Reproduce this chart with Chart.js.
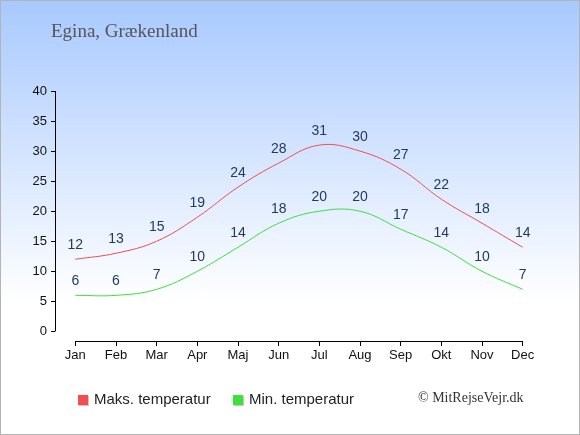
<!DOCTYPE html>
<html>
<head>
<meta charset="utf-8">
<script src="https://cdn.jsdelivr.net/npm/chart.js@4"></script>
<style>
  html, body { margin: 0; padding: 0; background: #fff; }
  #wrap { width: 578px; height: 433px; border: 1px solid #b4b4b4; }
</style>
</head>
<body>
<div id="wrap"><canvas id="tempChart" width="578" height="433"></canvas></div>
<script>
const months = ['Jan', 'Feb', 'Mar', 'Apr', 'Maj', 'Jun', 'Jul', 'Aug', 'Sep', 'Okt', 'Nov', 'Dec'];
const maxTemp = [12, 13, 15, 19, 24, 28, 31, 30, 27, 22, 18, 14];
const minTemp = [6, 6, 7, 10, 14, 18, 20, 20, 17, 14, 10, 7];
const yTicks = [0, 5, 10, 15, 20, 25, 30, 35, 40];

const titleText = 'Egina, Grækenland';
const copyright = '© MitRejseVejr.dk';

// background gradient + title + copyright
const backdrop = {
    id: 'backdrop',
    beforeDraw(chart) {
        const c = chart.ctx;
        const g = c.createLinearGradient(0, 0, 0, 300);
        g.addColorStop(0, '#a8c9ff');
        g.addColorStop(1, '#ffffff');
        c.save();
        c.fillStyle = g;
        c.fillRect(0, 0, chart.width, chart.height);
        c.restore();
    },
    afterDraw(chart) {
        const c = chart.ctx;
        c.save();
        c.fillStyle = '#555';
        c.font = '19px "Liberation Serif", serif';
        c.textBaseline = 'middle';
        c.fillText(titleText, 50, 31);
        c.fillStyle = '#333';
        c.font = '14px "Liberation Serif", serif';
        c.fillText(copyright, 417, 397);
        c.restore();
    }
};

// axis lines that stop at the first/last tick
const axisLines = {
    id: 'axisLines',
    afterDraw(chart) {
        const c = chart.ctx;
        const x = chart.scales.x, y = chart.scales.y;
        c.save();
        c.strokeStyle = '#000';
        c.lineWidth = 1;
        c.beginPath();
        const ax = Math.round(chart.chartArea.left) + 0.5;
        c.moveTo(ax, y.getPixelForValue(40));
        c.lineTo(ax, y.getPixelForValue(0));
        const ay = Math.round(chart.chartArea.bottom) + 0.5;
        c.moveTo(x.getPixelForValue(0), ay);
        c.lineTo(x.getPixelForValue(months.length - 1), ay);
        c.stroke();
        c.restore();
    }
};

// value labels over each point
const pointLabels = {
    id: 'pointLabels',
    afterDatasetsDraw(chart) {
        const c = chart.ctx;
        c.save();
        c.fillStyle = '#233a5e';
        c.font = '14px "Liberation Sans", Arial, sans-serif';
        c.textAlign = 'center';
        c.textBaseline = 'middle';
        chart.data.datasets.forEach((ds, i) => {
            chart.getDatasetMeta(i).data.forEach((pt, j) => {
                c.fillText(ds.data[j], pt.x, pt.y - 14);
            });
        });
        c.restore();
    }
};

// legend with shadowed squares
const legendBoxes = {
    id: 'legendBoxes',
    afterDraw(chart) {
        const c = chart.ctx;
        const xs = [77, 232];
        c.save();
        c.font = '15px "Liberation Sans", Arial, sans-serif';
        c.textBaseline = 'middle';
        chart.data.datasets.forEach((ds, i) => {
            const x = xs[i], y = 394;
            c.fillStyle = '#c8c8c8';
            c.fillRect(x + 1, y + 1, 10, 10);
            c.fillStyle = ds.borderColor;
            c.fillRect(x, y, 10, 10);
            c.fillStyle = '#222';
            c.fillText(ds.label, x + 16, y + 5);
        });
        c.restore();
    }
};

const ctx = document.getElementById('tempChart').getContext('2d');
new Chart(ctx, {
    type: 'line',
    data: {
        labels: months,
        datasets: [{
            label: 'Maks. temperatur',
            data: maxTemp,
            borderColor: '#f24e4e',
            borderWidth: 1,
            tension: 0.4,
            pointRadius: 0,
            fill: false
        }, {
            label: 'Min. temperatur',
            data: minTemp,
            borderColor: '#3de03d',
            borderWidth: 1,
            tension: 0.4,
            pointRadius: 0,
            fill: false
        }]
    },
    options: {
        responsive: false,
        animation: false,
        devicePixelRatio: 1,
        layout: { padding: { left: 0, right: 36, top: 90, bottom: 0 } },
        plugins: {
            legend: { display: false },
            tooltip: { enabled: false }
        },
        scales: {
            x: {
                offset: true,
                border: { display: false },
                grid: { offset: false, drawOnChartArea: false, drawTicks: true, tickLength: 5, color: '#000' },
                ticks: { color: '#111', padding: 2, font: { family: '"Liberation Sans", Arial, sans-serif', size: 13 } },
                afterFit(scale) { scale.height = 93; }
            },
            y: {
                min: -1.6,
                max: 40,
                border: { display: false },
                afterBuildTicks(scale) { scale.ticks = yTicks.map(v => ({ value: v })); },
                grid: { drawOnChartArea: false, drawTicks: true, tickLength: 4, color: '#000' },
                ticks: { color: '#111', padding: 4, font: { family: '"Liberation Sans", Arial, sans-serif', size: 13 } },
                afterFit(scale) { scale.width = 54; }
            }
        }
    },
    plugins: [backdrop, axisLines, pointLabels, legendBoxes]
});
</script>
</body>
</html>
